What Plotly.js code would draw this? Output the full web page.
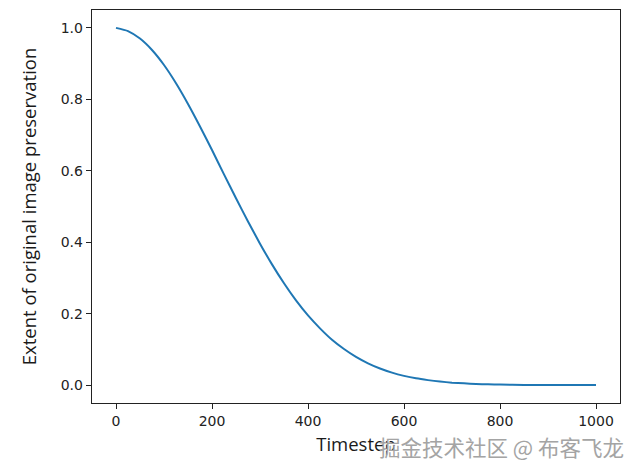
<!DOCTYPE html>
<html><head><meta charset="utf-8">
<script src="https://cdn.plot.ly/plotly-3.0.1.min.js"></script>
<style>body{margin:0;background:#fff}#c{width:641px;height:473px}</style>
</head><body><div id="c"></div>
<script>
// Timesteps and values (estimates)
const timesteps = [0,25,50,75,100,125,150,175,200,225,250,275,300,325,350,375,400,425,450,475,500,525,550,575,600,625,650,675,700,725,750,775,800,850,900,950,1000];
const preservation = [1.0,0.991,0.970,0.938,0.896,0.845,0.787,0.724,0.658,0.590,0.523,0.458,0.396,0.338,0.285,0.237,0.195,0.159,0.127,0.101,0.079,0.061,0.0465,0.035,0.026,0.019,0.014,0.010,0.007,0.005,0.0034,0.0023,0.0016,0.0007,0.0003,0.0001,0.00004];
const xTicks = [0,200,400,600,800,1000];
const yTicks = [0.0,0.2,0.4,0.6,0.8,1.0];
const xTitle = 'Timestep';
const yTitle = 'Extent of original image preservation';
const watermark = '掘金技术社区 @ 布客飞龙';

Plotly.newPlot('c', [{
  x: timesteps, y: preservation, type: 'scatter', mode: 'lines',
  line: {color: '#1f77b4', width: 2, shape: 'spline', smoothing: 0.6}
}], {
  width: 641, height: 473,
  margin: {l: 92, r: 21, t: 10, b: 70},
  paper_bgcolor: '#fff', plot_bgcolor: '#fff',
  showlegend: false,
  font: {family: 'DejaVu Sans', size: 14, color: '#222'},
  xaxis: {
    range: [-50, 1050], tickvals: xTicks, ticktext: xTicks.map(String),
    showgrid: false, zeroline: false, showline: true, mirror: true,
    linecolor: '#222', linewidth: 1.3, ticks: 'outside', ticklen: 5, tickcolor: '#222',
    tickfont: {family: 'DejaVu Sans', size: 14, color: '#222'},
    title: {text: xTitle, font: {family: 'Open Sans', size: 18.5, color: '#1a1a1a'}, standoff: 10}
  },
  yaxis: {
    range: [-0.05, 1.05], tickvals: yTicks, ticktext: yTicks.map(v => v.toFixed(1)),
    showgrid: false, zeroline: false, showline: true, mirror: true,
    linecolor: '#222', linewidth: 1.3, ticks: 'outside', ticklen: 5, tickcolor: '#222',
    tickfont: {family: 'DejaVu Sans', size: 14, color: '#222'},
    title: {text: yTitle, font: {family: 'Open Sans', size: 18.5, color: '#1a1a1a'}, standoff: 19}
  },
  annotations: [{
    text: watermark, xref: 'paper', yref: 'paper', x: 1.012, y: -0.11,
    xanchor: 'right', yanchor: 'middle', showarrow: false,
    font: {family: 'Noto Sans CJK SC', size: 21.5, color: '#a4a4a4',
      shadow: '1px 1px 0px #fff'}
  }]
}, {displayModeBar: false, staticPlot: true});
</script></body></html>
